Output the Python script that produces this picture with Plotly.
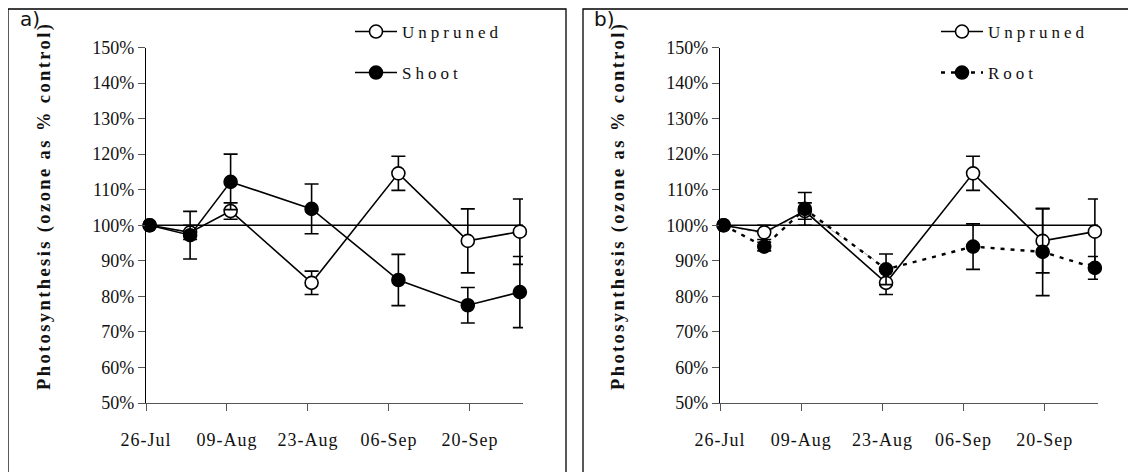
import plotly.graph_objects as go

# ---- data ----
dates = ["2004-07-26 15:00", "2004-08-02 15:00", "2004-08-09 15:00", "2004-08-23 15:00",
         "2004-09-07 15:00", "2004-09-19 15:00", "2004-09-28 15:00"]
unpruned = [100.0, 98.0, 104.0, 83.8, 114.6, 95.6, 98.2]
unpruned_err = [0.0, 2.0, 2.3, 3.3, 4.8, 9.0, 9.2]
shoot = [100.0, 97.2, 112.2, 104.6, 84.6, 77.5, 81.2]
shoot_err = [0.0, 6.7, 7.8, 7.0, 7.2, 5.0, 10.0]
root = [100.0, 94.0, 104.6, 87.6, 94.0, 92.5, 88.0]
root_err = [0.0, 1.2, 4.6, 4.3, 6.4, 12.3, 3.2]
root_faint = [100.0, 97.6, 103.8, 88.0]
control_level = 100.0

tick_dates = ["2004-07-26", "2004-08-09", "2004-08-23", "2004-09-06", "2004-09-20"]
tick_labels = ["26-Jul", "09-Aug", "23-Aug", "06-Sep", "20-Sep"]
y_ticks = [50, 60, 70, 80, 90, 100, 110, 120, 130, 140, 150]
x_range = ["2004-07-26", "2004-09-29 04:00"]

SERIF = "Liberation Serif, Times New Roman, serif"
SANS = "DejaVu Sans, Verdana, sans-serif"

# page has an 8px body margin; figure sized to fit the window
OFF = 8
W, H = 1136 - OFF, 472 - OFF


def px(x):
    return (x - OFF) / W


def py(y):
    return 1 - (y - OFF) / H


def ls(text, sp):
    return f'<span style="letter-spacing:{sp}px">{text}</span>'


fig = go.Figure()


def add_series(y, err, name, xaxis, yaxis, legend, filled, dash="solid", width=1.6):
    fig.add_trace(go.Scatter(
        x=dates, y=y, name=ls(name, 4), mode="lines+markers",
        xaxis=xaxis, yaxis=yaxis, legend=legend,
        line=dict(color="black", width=width, dash=dash),
        marker=dict(symbol="circle", size=13,
                    color="black" if filled else "white",
                    line=dict(color="black", width=1.6)),
        error_y=dict(type="data", array=err, visible=True, color="black",
                     thickness=1.6, width=7),
        cliponaxis=False,
    ))


# panel a
add_series(unpruned, unpruned_err, "Unpruned", "x", "y", "legend", False)
add_series(shoot, shoot_err, "Shoot", "x", "y", "legend2", True)

# panel b
fig.add_trace(go.Scatter(
    x=dates[:len(root_faint)], y=root_faint, mode="lines", showlegend=False,
    xaxis="x2", yaxis="y2", line=dict(color="#888888", width=0.8, dash="4px,4px"),
    hoverinfo="skip"))
add_series(unpruned, unpruned_err, "Unpruned", "x2", "y2", "legend3", False)
add_series(root, root_err, "Root", "x2", "y2", "legend4", True, dash="4px,6px", width=2.4)

xa = [px(146), px(523)]
xb = [px(720), px(1098)]
ydom = [py(403), py(47.5)]

xaxis_common = dict(
    type="date", range=x_range, tickmode="array", tickvals=tick_dates,
    ticktext=[ls(t, 1) for t in tick_labels], showgrid=False, zeroline=False,
    showline=True, linecolor="#555555", linewidth=1.3, ticks="outside",
    ticklen=7, tickcolor="#555555", tickwidth=1.3, automargin=False,
    tickfont=dict(family=SERIF, size=18, color="#111111"), ticklabelstandoff=13,
)
yaxis_common = dict(
    range=[50, 150], tickmode="array", tickvals=y_ticks,
    ticktext=[f"{v}%" for v in y_ticks], automargin=False,
    showgrid=False, zeroline=False, showline=True, linecolor="black",
    linewidth=1.3, ticks="outside", ticklen=7, tickcolor="#555555", tickwidth=1.3,
    tickfont=dict(family=SERIF, size=18, color="#111111"),
)

legend_common = dict(bgcolor="rgba(0,0,0,0)", borderwidth=0, xanchor="left",
                     yanchor="middle", font=dict(family=SERIF, size=17, color="#111111"),
                     itemclick=False, itemwidth=42)

fig.update_layout(
    template="none",
    width=W, height=H, margin=dict(l=0, r=0, t=0, b=0, pad=0, autoexpand=False),
    paper_bgcolor="white", plot_bgcolor="white",
    xaxis=dict(domain=xa, anchor="y", **xaxis_common),
    yaxis=dict(domain=ydom, anchor="x", **yaxis_common),
    xaxis2=dict(domain=xb, anchor="y2", **xaxis_common),
    yaxis2=dict(domain=ydom, anchor="x2", **yaxis_common),
    legend=dict(x=px(350), y=py(32), **legend_common),
    legend2=dict(x=px(350), y=py(73), **legend_common),
    legend3=dict(x=px(936), y=py(32), **legend_common),
    legend4=dict(x=px(936), y=py(73), **legend_common),
    showlegend=True,
)

# 100% control reference lines
for xr, yr in (("x", "y"), ("x2", "y2")):
    fig.add_shape(type="line", xref=f"{xr} domain", yref=yr, x0=0, x1=1,
                  y0=control_level, y1=control_level,
                  line=dict(color="black", width=1.6), layer="below")

# panel borders
fig.add_shape(type="rect", xref="paper", yref="paper", x0=px(8), x1=px(566),
              y0=-0.05, y1=py(9), line=dict(color="black", width=1.3))
fig.add_shape(type="rect", xref="paper", yref="paper", x0=px(583), x1=1.05,
              y0=-0.05, y1=py(9), line=dict(color="black", width=1.3))

title = ls("<b>Photosynthesis (ozone as % control)</b>", 2.4)
for xc in (44, 618):
    fig.add_annotation(xref="paper", yref="paper", x=px(xc), y=py(206),
                       xanchor="center", yanchor="middle",
                       text=title, textangle=-90, showarrow=False,
                       font=dict(family=SERIF, size=18.5, color="#111111"))

for label, xc in (("a)", 30), ("b)", 604)):
    fig.add_annotation(xref="paper", yref="paper", x=px(xc), y=py(19),
                       xanchor="center", yanchor="middle",
                       text=label, showarrow=False,
                       font=dict(family=SANS, size=20, color="#111111"))

fig.write_html("out.html")
